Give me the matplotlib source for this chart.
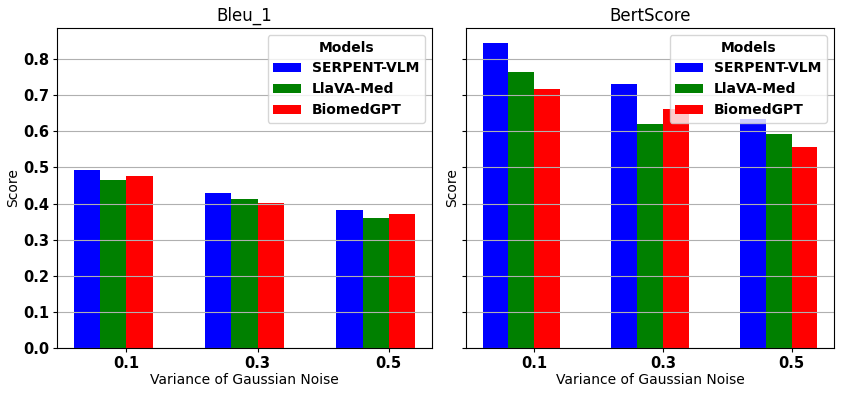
import numpy as np
import matplotlib
matplotlib.use('Agg')
import matplotlib.pyplot as plt

noise = ['0.1', '0.3', '0.5']
models = ['SERPENT-VLM', 'LlaVA-Med', 'BiomedGPT']
colors = ['blue', 'green', 'red']

bleu_serpent = [0.494, 0.428, 0.383]
bleu_llava = [0.466, 0.414, 0.361]
bleu_biomed = [0.477, 0.401, 0.372]

bert_serpent = [0.844, 0.731, 0.635]
bert_llava = [0.764, 0.621, 0.593]
bert_biomed = [0.717, 0.662, 0.557]

panels = [
    ('Bleu_1', [bleu_serpent, bleu_llava, bleu_biomed]),
    ('BertScore', [bert_serpent, bert_llava, bert_biomed]),
]

w = 0.2
x = np.arange(len(noise))

fig, axes = plt.subplots(1, 2, figsize=(8.48, 3.94), dpi=100, sharey=True)
axes[0].set_position([57 / 848, 1 - 348 / 394, 375 / 848, 320 / 394])
axes[1].set_position([466 / 848, 1 - 348 / 394, 368 / 848, 320 / 394])

for ax, (title, series) in zip(axes, panels):
    for i, (vals, name, c) in enumerate(zip(series, models, colors)):
        ax.bar(x + (i - 1) * w, vals, w, color=c, label=name)
    ax.set_title(title, fontsize=12, pad=5)
    ax.set_xlabel('Variance of Gaussian Noise', fontsize=10, labelpad=2)
    ax.set_ylabel('Score', fontsize=10, labelpad=2)
    ax.tick_params(length=3, pad=2.5)
    ax.set_xticks(x + w / 2)
    ax.set_xticklabels(noise, fontweight='bold', fontsize=10.5)
    for lab in ax.get_yticklabels():
        lab.set_fontweight('bold')
        lab.set_fontsize(10.5)
    ax.yaxis.grid(True)
    leg = ax.legend(title='Models', loc='upper right', prop={'weight': 'bold', 'size': 10},
                    title_fontproperties={'weight': 'bold', 'size': 10})

axes[0].set_yticks(np.arange(0, 0.81, 0.1))
plt.savefig('out.png')
